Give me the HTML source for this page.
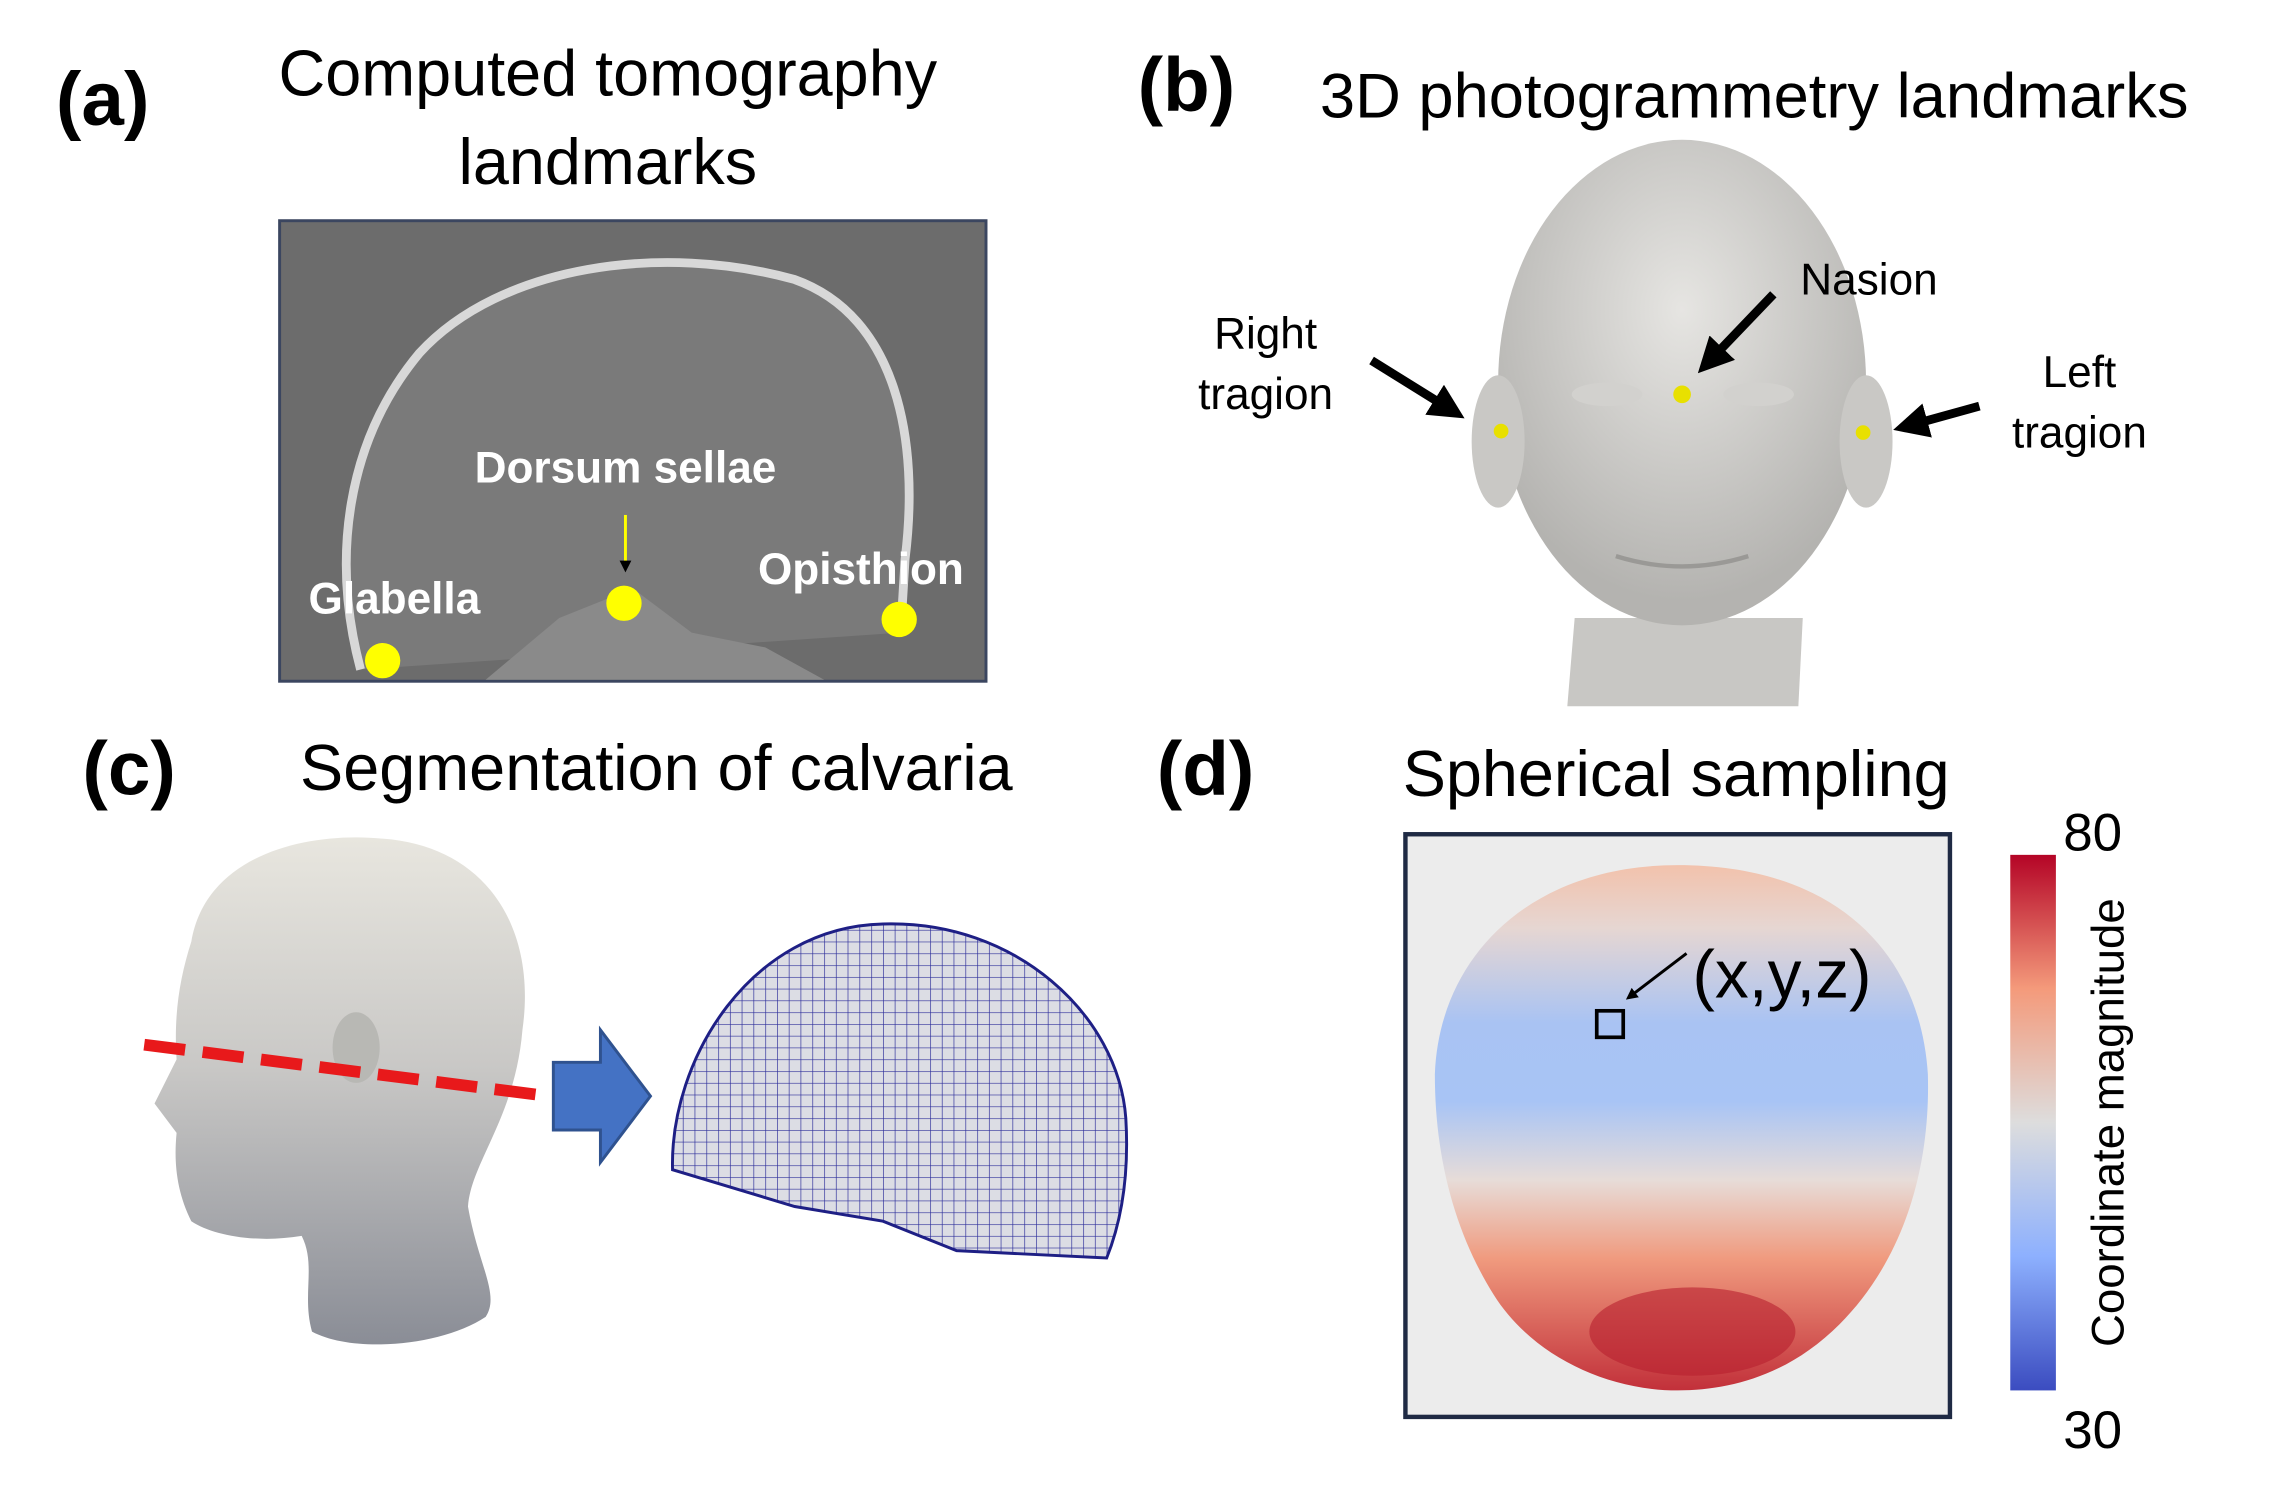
<!DOCTYPE html>
<html><head><meta charset="utf-8"><style>
html,body{margin:0;padding:0;background:#fff}
svg{display:block}
text{font-family:"Liberation Sans","DejaVu Sans",sans-serif}
</style></head><body>
<svg width="2284" height="1489" viewBox="0 0 1552 1012" preserveAspectRatio="none" xmlns="http://www.w3.org/2000/svg">
<defs>
<radialGradient id="faceG" cx="0.5" cy="0.35" r="0.6"><stop offset="0" stop-color="#e6e5e2"/><stop offset="1" stop-color="#b4b3b0"/></radialGradient>
<linearGradient id="sideG" x1="0" y1="0" x2="0" y2="1"><stop offset="0" stop-color="#e8e6df"/><stop offset="0.45" stop-color="#c9c8c6"/><stop offset="1" stop-color="#8a8d96"/></linearGradient>
<pattern id="mesh" width="8" height="8" patternUnits="userSpaceOnUse"><rect width="8" height="8" fill="#dcdde4"/><path d="M0 0H8M0 0V8" stroke="#2c2d9a" stroke-width="0.9"/></pattern>
<linearGradient id="sphG" x1="0" y1="0" x2="0" y2="1"><stop offset="0" stop-color="#f2c2ac"/><stop offset="0.12" stop-color="#e6d6d2"/><stop offset="0.3" stop-color="#a9c3f3"/><stop offset="0.45" stop-color="#a8c4f5"/><stop offset="0.6" stop-color="#e7dcd8"/><stop offset="0.75" stop-color="#f09a7e"/><stop offset="1" stop-color="#c2303a"/></linearGradient>
<linearGradient id="cbG" x1="0" y1="1" x2="0" y2="0"><stop offset="0" stop-color="#3b4cc0"/><stop offset="0.25" stop-color="#8db0fe"/><stop offset="0.5" stop-color="#dddddd"/><stop offset="0.75" stop-color="#f49a7b"/><stop offset="1" stop-color="#b40426"/></linearGradient>
<marker id="ah" markerWidth="4" markerHeight="4" refX="2" refY="2" orient="auto"><path d="M0 0L4 2L0 4Z" fill="#000"/></marker>
</defs>

<text x="38" y="85" font-size="52" font-weight="bold">(a)</text>
<text x="413" y="65" font-size="44" text-anchor="middle">Computed tomography</text>
<text x="413" y="125" font-size="44" text-anchor="middle">landmarks</text>
<g>
<rect x="190" y="150" width="480" height="313" fill="#6c6c6c" stroke="#3b4660" stroke-width="2"/>
<path d="M245 455 C225 380 235 300 285 240 C340 180 450 165 540 190 C610 215 625 300 615 380 L612 430" fill="#7a7a7a" stroke="#d8d8d8" stroke-width="6"/>
<path d="M330 462 L380 420 L430 400 L470 430 L520 440 L560 462Z" fill="#8a8a8a"/>
</g>
<text x="425" y="328" font-size="30" font-weight="bold" fill="#fff" text-anchor="middle">Dorsum sellae</text>
<text x="268" y="417" font-size="30" font-weight="bold" fill="#fff" text-anchor="middle">Glabella</text>
<text x="585" y="397" font-size="30" font-weight="bold" fill="#fff" text-anchor="middle">Opisthion</text>
<line x1="425" y1="350" x2="425" y2="385" stroke="#ffff00" stroke-width="2" marker-end="url(#ah)"/>
<circle cx="260" cy="449" r="12" fill="#ffff00"/>
<circle cx="424" cy="410" r="12" fill="#ffff00"/>
<circle cx="611" cy="421" r="12" fill="#ffff00"/>

<text x="773" y="75" font-size="52" font-weight="bold">(b)</text>
<text x="1192" y="80" font-size="43" text-anchor="middle">3D photogrammetry landmarks</text>
<g>
<path d="M1065 480 L1070 420 L1225 420 L1222 480Z" fill="#c8c7c4"/>
<ellipse cx="1143" cy="260" rx="125" ry="165" fill="url(#faceG)"/>
<ellipse cx="1018" cy="300" rx="18" ry="45" fill="#c9c8c5"/>
<ellipse cx="1268" cy="300" rx="18" ry="45" fill="#c9c8c5"/>
<ellipse cx="1092" cy="268" rx="24" ry="8" fill="#d2d1ce"/>
<ellipse cx="1195" cy="268" rx="24" ry="8" fill="#d2d1ce"/>
<path d="M1098 378 Q1143 392 1188 378" stroke="#9a9996" stroke-width="3" fill="none"/>
</g>
<circle cx="1143" cy="268" r="6" fill="#e8e000"/>
<circle cx="1020" cy="293" r="5" fill="#e8e000"/>
<circle cx="1266" cy="294" r="5" fill="#e8e000"/>
<text x="1270" y="200" font-size="30" text-anchor="middle">Nasion</text>
<text x="860" y="237" font-size="30" text-anchor="middle">Right</text>
<text x="860" y="278" font-size="30" text-anchor="middle">tragion</text>
<text x="1413" y="263" font-size="30" text-anchor="middle">Left</text>
<text x="1413" y="304" font-size="30" text-anchor="middle">tragion</text>
<line x1="1205" y1="200" x2="1162" y2="245" stroke="#000" stroke-width="6" marker-end="url(#ah)"/>
<line x1="932" y1="245" x2="985" y2="278" stroke="#000" stroke-width="6" marker-end="url(#ah)"/>
<line x1="1345" y1="276" x2="1298" y2="289" stroke="#000" stroke-width="6" marker-end="url(#ah)"/>

<text x="56" y="540" font-size="52" font-weight="bold">(c)</text>
<text x="446" y="537" font-size="44" text-anchor="middle">Segmentation of calvaria</text>
<g>
<path d="M130 640 C140 580 210 565 260 570 C330 575 365 630 355 700 C350 760 320 790 318 820 C325 860 340 880 330 895 C300 915 240 920 212 905 C205 880 215 860 205 840 C175 845 145 840 130 830 C120 810 118 790 120 770 L105 750 L120 720 C118 690 122 665 130 640Z" fill="url(#sideG)"/>
<ellipse cx="242" cy="712" rx="16" ry="24" fill="#b8b8b4"/>
</g>
<line x1="98" y1="710" x2="365" y2="744" stroke="#e8191b" stroke-width="8" stroke-dasharray="28,12"/>
<path d="M376 722 L408 722 L408 700 L442 745 L408 790 L408 768 L376 768Z" fill="#4472c4" stroke="#2f528f" stroke-width="2"/>
<path d="M457 795 C455 720 510 630 600 628 C690 625 760 690 765 760 C768 810 758 840 752 855 L650 850 L600 830 L540 820 Z" fill="url(#mesh)" stroke="#1e1f85" stroke-width="2"/>

<text x="786" y="540" font-size="52" font-weight="bold">(d)</text>
<text x="1139" y="541" font-size="44" text-anchor="middle">Spherical sampling</text>
<rect x="955" y="567" width="370" height="396" fill="#ececec" stroke="#1f2a44" stroke-width="3"/>
<path d="M1140 588 C1250 588 1305 650 1310 730 C1312 800 1290 860 1250 900 C1215 935 1175 945 1140 945 C1090 945 1040 920 1015 880 C990 840 975 790 975 730 C978 650 1040 588 1140 588Z" fill="url(#sphG)"/>
<ellipse cx="1150" cy="905" rx="70" ry="30" fill="#b8202f" opacity="0.6"/>
<rect x="1085" y="687" width="18" height="18" fill="none" stroke="#000" stroke-width="2.5"/>
<line x1="1146" y1="648" x2="1108" y2="677" stroke="#000" stroke-width="2" marker-end="url(#ah)"/>
<text x="1150" y="678" font-size="46">(x,y,z)</text>
<rect x="1366" y="581" width="31" height="364" fill="url(#cbG)"/>
<text x="1422" y="578" font-size="36" text-anchor="middle">80</text>
<text x="1422" y="984" font-size="36" text-anchor="middle">30</text>
<text x="1443" y="763" font-size="31" text-anchor="middle" transform="rotate(-90 1443 763)">Coordinate magnitude</text>
</svg>
</body></html>
